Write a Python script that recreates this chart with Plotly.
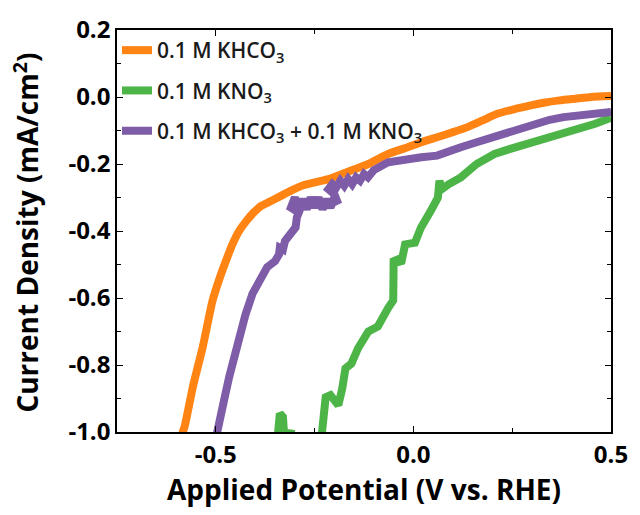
import plotly.graph_objects as go

# Linear sweep voltammetry: current density vs applied potential
khco3_v = [-0.59, -0.579, -0.558, -0.533, -0.508, -0.49, -0.474, -0.458, -0.441, -0.424,
           -0.405, -0.385, -0.366, -0.335, -0.307, -0.282, -0.25, -0.215, -0.17, -0.114,
           -0.064, -0.02, 0.02, 0.06, 0.10, 0.137, 0.175, 0.212, 0.26, 0.30,
           0.33, 0.37, 0.41, 0.45, 0.50]
khco3_j = [-1.02, -0.984, -0.865, -0.746, -0.607, -0.54, -0.488, -0.44, -0.40, -0.372,
           -0.346, -0.325, -0.314, -0.295, -0.278, -0.265, -0.255, -0.245, -0.225, -0.20,
           -0.17, -0.152, -0.135, -0.12, -0.105, -0.09, -0.07, -0.05, -0.035, -0.024,
           -0.017, -0.01, -0.005, 0.0, 0.003]

kno3_v = [-0.35, -0.338, -0.33, -0.325, -0.31, -0.305, -0.24, -0.228, -0.222, -0.21,
          -0.19, -0.18, -0.172, -0.157, -0.14, -0.114, -0.09, -0.064, -0.051, -0.05,
          -0.04, -0.031, -0.021, 0.004, 0.019, 0.044, 0.062, 0.066, 0.072, 0.09,
          0.12, 0.16, 0.205, 0.245, 0.29, 0.33, 0.37, 0.413, 0.46, 0.50]
kno3_j = [-1.1, -0.945, -0.955, -1.05, -0.995, -1.05, -1.1, -0.99, -0.896, -0.89,
          -0.92, -0.87, -0.81, -0.796, -0.75, -0.70, -0.685, -0.63, -0.607, -0.49,
          -0.485, -0.497, -0.44, -0.435, -0.39, -0.34, -0.30, -0.25, -0.275, -0.26,
          -0.24, -0.20, -0.17, -0.155, -0.14, -0.125, -0.11, -0.095, -0.08, -0.062]

mix_v = [-0.50, -0.495, -0.48, -0.466, -0.455, -0.441, -0.425, -0.407, -0.39, -0.37,
         -0.35, -0.34, -0.338, -0.33, -0.325, -0.31, -0.298, -0.295, -0.29,
         -0.31, -0.30, -0.29, -0.28, -0.27, -0.26, -0.25, -0.24, -0.23, -0.22,
         -0.21, -0.20, -0.19, -0.20, -0.215, -0.205, -0.195, -0.185, -0.175, -0.165,
         -0.155, -0.145, -0.135, -0.125, -0.115, -0.10, -0.064, -0.02,
         0.02, 0.06, 0.09, 0.12, 0.16, 0.20, 0.245, 0.28, 0.31, 0.345,
         0.38, 0.42, 0.46, 0.50]
mix_j = [-1.02, -0.984, -0.91, -0.835, -0.78, -0.716, -0.65, -0.587, -0.545, -0.508,
         -0.49, -0.47, -0.45, -0.455, -0.43, -0.405, -0.389, -0.36, -0.345,
         -0.33, -0.30, -0.335, -0.305, -0.335, -0.30, -0.33, -0.30, -0.335, -0.305,
         -0.33, -0.30, -0.32, -0.29, -0.275, -0.26, -0.27, -0.25, -0.265, -0.245,
         -0.26, -0.24, -0.25, -0.23, -0.24, -0.218, -0.195, -0.185,
         -0.18, -0.175, -0.165, -0.15, -0.135, -0.12, -0.10, -0.09, -0.08, -0.068,
         -0.06, -0.055, -0.05, -0.045]

x_ticks = [-0.5, 0.0, 0.5]
x_tick_labels = ["-0.5", "0.0", "0.5"]
y_ticks = [-1.0, -0.8, -0.6, -0.4, -0.2, 0.0, 0.2]
y_tick_labels = ["-1.0", "-0.8", "-0.6", "-0.4", "-0.2", "0.0", "0.2"]

series = [
    ("0.1 M KHCO<sub>3</sub>", khco3_v, khco3_j, "#FF8414", "spline"),
    ("0.1 M KNO<sub>3</sub>", kno3_v, kno3_j, "#4DB548", "linear"),
    ("0.1 M KHCO<sub>3</sub> + 0.1 M KNO<sub>3</sub>", mix_v, mix_j, "#7E5CA7", "linear"),
]

fig = go.Figure()
for i, (name, v, j, color, shape) in enumerate(series):
    fig.add_trace(go.Scatter(
        x=v, y=j, mode="lines", name=name, legendgroup=f"g{i}",
        line=dict(color=color, width=8, shape=shape, smoothing=0.6),
    ))

FONT = "Open Sans"
axis_common = dict(
    showline=True, linecolor="black", linewidth=1.5, mirror="ticks",
    ticks="inside", ticklen=6, tickwidth=1.2, tickcolor="black",
    showgrid=False, zeroline=False,
    tickfont=dict(family=FONT, size=24, color="black", weight="bold"),
)

fig.update_xaxes(
    range=[-0.75, 0.5], tickvals=x_ticks, ticktext=x_tick_labels,
    minor=dict(tickvals=[-0.25, 0.25], ticks="inside", ticklen=4, tickcolor="black"),
    title=dict(text="Applied Potential (V vs. RHE)", standoff=10,
               font=dict(family=FONT, size=28, color="black", weight="bold")),
    **axis_common,
)
fig.update_yaxes(
    range=[-1.0, 0.2], tickvals=y_ticks, ticktext=y_tick_labels,
    minor=dict(dtick=0.1, ticks="inside", ticklen=4, tickcolor="black"),
    **axis_common,
)

# rotated y-axis title
fig.add_annotation(
    text="Current Density (mA/cm<sup>2</sup>)", textangle=-90,
    xref="paper", yref="paper", x=-0.185, y=0.495, xanchor="center", yanchor="middle",
    showarrow=False,
    font=dict(family=FONT, size=28, color="black", weight="bold"),
)

fig.update_layout(
    width=640, height=515,
    margin=dict(l=117, r=25, t=29, b=83),
    plot_bgcolor="white", paper_bgcolor="white",
    showlegend=True,
    legend=dict(
        x=0.0, y=1.0, xanchor="left", yanchor="top",
        bgcolor="rgba(0,0,0,0)", tracegroupgap=10,
        font=dict(family=FONT, size=21, color="#1a1a1a", weight=600),
        itemwidth=30,
    ),
)

fig.write_html("out.html")
